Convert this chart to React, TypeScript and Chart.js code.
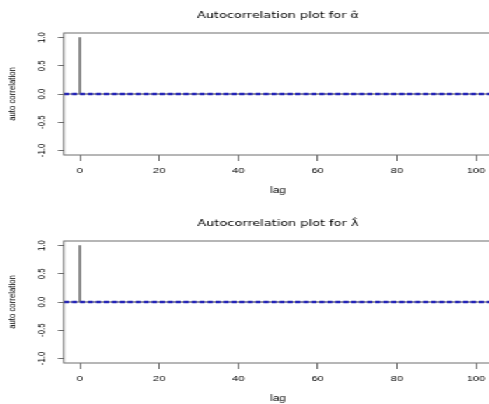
import React, { useEffect, useRef } from 'react';
import { Chart, registerables } from 'chart.js';

Chart.register(...registerables);

// ---- data ----
const lags = [
  0, 1, 2, 3, 4, 5, 6, 7, 8, 9, 10, 11, 12, 13, 14, 15, 16, 17, 18, 19, 20,
  21, 22, 23, 24, 25, 26, 27, 28, 29, 30, 31, 32, 33, 34, 35, 36, 37, 38, 39, 40,
  41, 42, 43, 44, 45, 46, 47, 48, 49, 50, 51, 52, 53, 54, 55, 56, 57, 58, 59, 60,
  61, 62, 63, 64, 65, 66, 67, 68, 69, 70, 71, 72, 73, 74, 75, 76, 77, 78, 79, 80,
  81, 82, 83, 84, 85, 86, 87, 88, 89, 90, 91, 92, 93, 94, 95, 96, 97, 98, 99, 100,
];
const acfAlpha = [
  1.0, 0, 0, 0, 0, 0, 0, 0, 0, 0, 0, 0, 0, 0, 0, 0, 0, 0, 0, 0, 0,
  0, 0, 0, 0, 0, 0, 0, 0, 0, 0, 0, 0, 0, 0, 0, 0, 0, 0, 0, 0,
  0, 0, 0, 0, 0, 0, 0, 0, 0, 0, 0, 0, 0, 0, 0, 0, 0, 0, 0, 0,
  0, 0, 0, 0, 0, 0, 0, 0, 0, 0, 0, 0, 0, 0, 0, 0, 0, 0, 0, 0,
  0, 0, 0, 0, 0, 0, 0, 0, 0, 0, 0, 0, 0, 0, 0, 0, 0, 0, 0, 0,
];
const acfLambda = [
  1.0, 0, 0, 0, 0, 0, 0, 0, 0, 0, 0, 0, 0, 0, 0, 0, 0, 0, 0, 0, 0,
  0, 0, 0, 0, 0, 0, 0, 0, 0, 0, 0, 0, 0, 0, 0, 0, 0, 0, 0, 0,
  0, 0, 0, 0, 0, 0, 0, 0, 0, 0, 0, 0, 0, 0, 0, 0, 0, 0, 0, 0,
  0, 0, 0, 0, 0, 0, 0, 0, 0, 0, 0, 0, 0, 0, 0, 0, 0, 0, 0, 0,
  0, 0, 0, 0, 0, 0, 0, 0, 0, 0, 0, 0, 0, 0, 0, 0, 0, 0, 0, 0,
];
const ciBounds = [0.01, -0.01];
const baselineLevel = 0;
const xLimits = [-4, 104];
const yLimits = [-1.08, 1.08];
const xTickValues = [0, 20, 40, 60, 80, 100];
const yTickValues = [-1.0, -0.5, 0.0, 0.5, 1.0];
const panelTitles = ['Autocorrelation plot for \u03B1\u0302', 'Autocorrelation plot for \u03BB\u0302'];
const xAxisLabel = 'lag';
const yAxisLabel = 'auto correlation';

// ---- style ----
const FONT = "'Liberation Sans', Arial, Helvetica, sans-serif";
const TITLE_FONT = { family: "'DejaVu Sans', sans-serif", size: 9.2 };
const STRETCH = 1.4;
const CANVAS_W = 354;
const CANVAS_H = 196;
const AXIS_GRAY = '#6e6e6e';

const boxPlugin = {
  id: 'plotBox',
  afterDatasetsDraw(chart: any) {
    const { ctx, chartArea: a } = chart;
    ctx.save();
    ctx.strokeStyle = AXIS_GRAY;
    ctx.lineWidth = 1;
    ctx.strokeRect(a.left, a.top, a.right - a.left, a.bottom - a.top);
    ctx.restore();
  },
};

function Panel({ title, values, top }: { title: string; values: number[]; top: number }) {
  const ref = useRef<HTMLCanvasElement | null>(null);
  useEffect(() => {
    if (!ref.current) return;
    const chart = new Chart(ref.current, {
      type: 'bar',
      data: {
        datasets: [
          {
            type: 'line',
            data: xLimits.map((x) => ({ x, y: ciBounds[0] })),
            borderColor: '#2424b8',
            borderWidth: 1.6,
            borderDash: [3.6, 2.1],
            pointRadius: 0,
            order: 0,
          } as any,
          {
            type: 'line',
            data: xLimits.map((x) => ({ x, y: ciBounds[1] })),
            borderColor: '#2424b8',
            borderWidth: 1.6,
            borderDash: [3.6, 2.1],
            pointRadius: 0,
            order: 0,
          } as any,
          {
            type: 'line',
            data: xLimits.map((x) => ({ x, y: baselineLevel })),
            borderColor: '#555555',
            borderWidth: 1,
            pointRadius: 0,
            order: 1,
          } as any,
          {
            type: 'bar',
            data: lags.map((x, i) => ({ x, y: values[i] })),
            backgroundColor: '#606060',
            borderWidth: 0,
            barThickness: 0.8,
            order: 2,
          } as any,
        ],
      },
      options: {
        animation: false,
        responsive: false,
        events: [],
        layout: { padding: { left: 0, right: 2.6, top: 0, bottom: 0 } },
        plugins: {
          legend: { display: false },
          tooltip: { enabled: false },
          title: {
            display: true,
            text: title,
            fullSize: false,
            color: '#000',
            font: { family: TITLE_FONT.family, size: TITLE_FONT.size, weight: 'normal', lineHeight: 1.2 },
            padding: { top: 16 - TITLE_FONT.size * 0.6, bottom: 33 - 16 - TITLE_FONT.size * 0.6 },
          },
        },
        scales: {
          x: {
            type: 'linear',
            position: 'bottom',
            min: xLimits[0],
            max: xLimits[1],
            bounds: 'data',
            offset: false,
            grid: { offset: false, drawOnChartArea: false, drawTicks: true, tickLength: 6, color: AXIS_GRAY },
            border: { display: false },
            afterBuildTicks: (s: any) => {
              s.ticks = xTickValues.map((value) => ({ value }));
            },
            ticks: {
              autoSkip: false,
              minRotation: 0,
              maxRotation: 0,
              padding: 5.3,
              color: '#000',
              font: { family: FONT, size: 8, lineHeight: 1.2 },
              callback: (v: any) => String(v),
            },
            title: {
              display: true,
              text: xAxisLabel,
              color: '#000',
              font: { family: FONT, size: 8.2, lineHeight: 1.2 },
              padding: { top: 0, bottom: 0.8 },
            },
            afterFit: (s: any) => {
              s.height = CANVAS_H - 155;
            },
          },
          y: {
            type: 'linear',
            position: 'left',
            min: yLimits[0],
            max: yLimits[1],
            bounds: 'data',
            grid: { drawOnChartArea: false, drawTicks: true, tickLength: 4.3, color: AXIS_GRAY },
            border: { display: false },
            afterBuildTicks: (s: any) => {
              s.ticks = yTickValues.map((value) => ({ value }));
            },
            ticks: {
              autoSkip: false,
              minRotation: 90,
              maxRotation: 90,
              crossAlign: 'center',
              padding: 5.1,
              color: '#000',
              font: { family: FONT, size: 7.8, lineHeight: 1.2 },
              callback: (v: any) => Number(v).toFixed(1),
            },
            title: {
              display: true,
              text: yAxisLabel,
              color: '#000',
              font: { family: FONT, size: 7.8, lineHeight: 1.2 },
              padding: { top: 4.6, bottom: 0 },
            },
            afterFit: (s: any) => {
              s.width = 45.7;
            },
          },
        },
      } as any,
      plugins: [boxPlugin],
    });
    return () => chart.destroy();
  }, [title, values]);

  return (
    <canvas
      ref={ref}
      width={CANVAS_W}
      height={CANVAS_H}
      style={{ position: 'absolute', left: 0, top, display: 'block' }}
    />
  );
}

export default function App() {
  return (
    <div
      style={{
        position: 'absolute',
        left: 0,
        top: 0,
        width: 489,
        height: 404,
        overflow: 'hidden',
        background: '#fff',
      }}
    >
      <div
        style={{
          position: 'relative',
          width: CANVAS_W,
          height: 404,
          transform: `scaleX(${STRETCH})`,
          transformOrigin: '0 0',
        }}
      >
        <Panel title={panelTitles[0]} values={acfAlpha} top={0} />
        <Panel title={panelTitles[1]} values={acfLambda} top={208} />
      </div>
    </div>
  );
}
